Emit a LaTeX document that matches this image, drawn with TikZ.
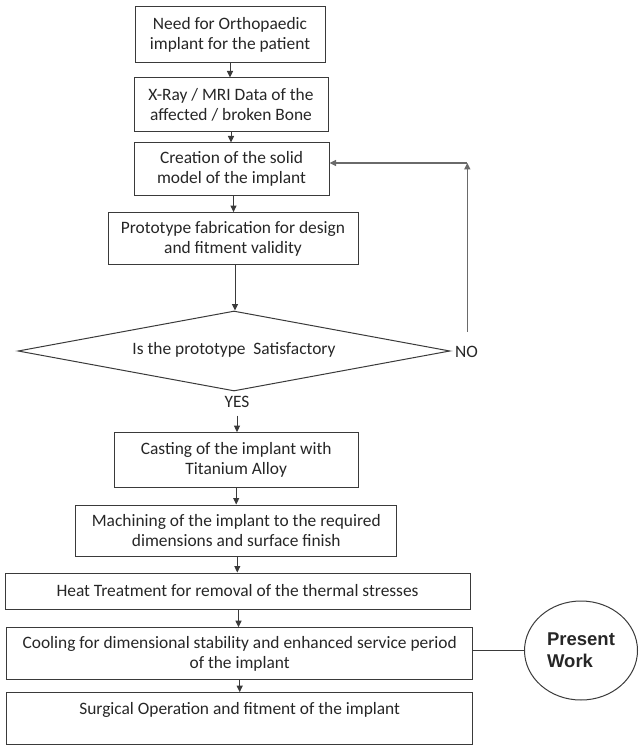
\documentclass[tikz,border=0pt]{standalone}
\usepackage{fontspec}
\setmainfont{Carlito}
\newfontfamily\arialfont{Liberation Sans}
\usetikzlibrary{shapes.geometric,arrows.meta,calc}
\definecolor{linegray}{HTML}{3A3A3A}
\definecolor{textgray}{HTML}{262626}
\definecolor{loopgray}{HTML}{6A6A6A}
\begin{document}
\begin{tikzpicture}[x=1pt,y=-1pt,
  box/.style={draw=linegray, line width=1pt, inner sep=0pt, align=center,
    font=\fontsize{17.4}{20}\selectfont, text=textgray},
  decision/.style={diamond, draw=linegray, line width=1pt, inner sep=0pt, aspect=5.4,
    font=\fontsize{17.4}{20}\selectfont, text=textgray},
  lbl/.style={inner sep=2pt, font=\fontsize{17.4}{20}\selectfont, text=textgray},
  arr/.style={draw=linegray, line width=1pt, -{Triangle[length=6.5pt,width=6pt]}},
  looparr/.style={draw=loopgray, line width=1.3pt, -{Triangle[length=6.5pt,width=6pt]}},
  plainline/.style={draw=linegray, line width=1pt},
  workcircle/.style={ellipse, draw=linegray, line width=1pt, inner sep=0pt, align=left,
    font=\arialfont\bfseries\fontsize{18.5}{22.3}\selectfont, text=textgray}]
\useasboundingbox (0,0) rectangle (638,746);

\node[box, minimum width=190pt, minimum height=56pt] (b1) at (230,34.7)
  {Need for Orthopaedic\\implant for the patient};
\node[box, minimum width=194pt, minimum height=54pt] (b2) at (231,105)
  {X-Ray / MRI Data of the\\affected / broken Bone};
\node[box, minimum width=195pt, minimum height=52pt] (b3) at (231.5,169)
  {Creation of the solid\\model of the implant};
\node[box, minimum width=250pt, minimum height=52pt] (b4) at (233,238.6)
  {Prototype fabrication for design\\and fitment validity};
\node[decision, minimum width=432pt, minimum height=80pt] (d) at (234,351)
  {\raisebox{5pt}{Is the prototype~ Satisfactory}};
\node[lbl, anchor=west] (no) at (453,351.7) {NO};
\node[lbl] (yes) at (237,401.7) {YES};
\node[box, minimum width=244.3pt, minimum height=55.3pt] (b5) at (236.2,460.3)
  {Casting of the implant with\\Titanium Alloy};
\node[box, minimum width=320.7pt, minimum height=51pt] (b6) at (236.3,530.5)
  {Machining of the implant to the required\\dimensions and surface finish};
\node[box, minimum width=465pt, minimum height=36pt] (b7) at (237.5,591)
  {Heat Treatment for removal of the thermal stresses};
\node[box, minimum width=466pt, minimum height=51.6pt] (b8) at (239.7,653.5)
  {Cooling for dimensional stability and enhanced service period\\of the implant};
\node[box, minimum width=466pt, minimum height=51.6pt] (b9) at (239.7,718.5)
  {Surgical Operation and fitment of the implant\\~};
\node[workcircle, minimum width=113pt, minimum height=99pt] (pw) at (581,650.5)
  {Present\\Work};

\coordinate (nostart) at (467.3,331.7);
\coordinate (corner) at (467.3,163);

\draw[arr] (b1.south) -- (b1.south |- b2.north);
\draw[arr] (b2.south) -- (b2.south |- b3.north);
\draw[arr] ([xshift=2pt]b3.south) -- ([xshift=2pt]b3.south |- b4.north);
\draw[arr] ([xshift=2pt]b4.south) -- ([xshift=2pt]b4.south |- d.north);
\draw[looparr] (nostart) -- (corner);
\draw[looparr] (corner) -- (corner -| b3.east);
\draw[arr, shorten <=6pt] (yes.south) -- (yes.south |- b5.north);
\draw[arr] (b5.south) -- (b5.south |- b6.north);
\draw[arr] ([xshift=1pt]b6.south) -- ([xshift=1pt]b6.south |- b7.north);
\draw[arr] ([xshift=1pt]b7.south) -- ([xshift=1pt]b7.south |- b8.north);
\draw[arr] (b8.south) -- (b8.south |- b9.north);
\draw[plainline] (pw.west -| b8.east) -- (pw.west);
\end{tikzpicture}
\end{document}
